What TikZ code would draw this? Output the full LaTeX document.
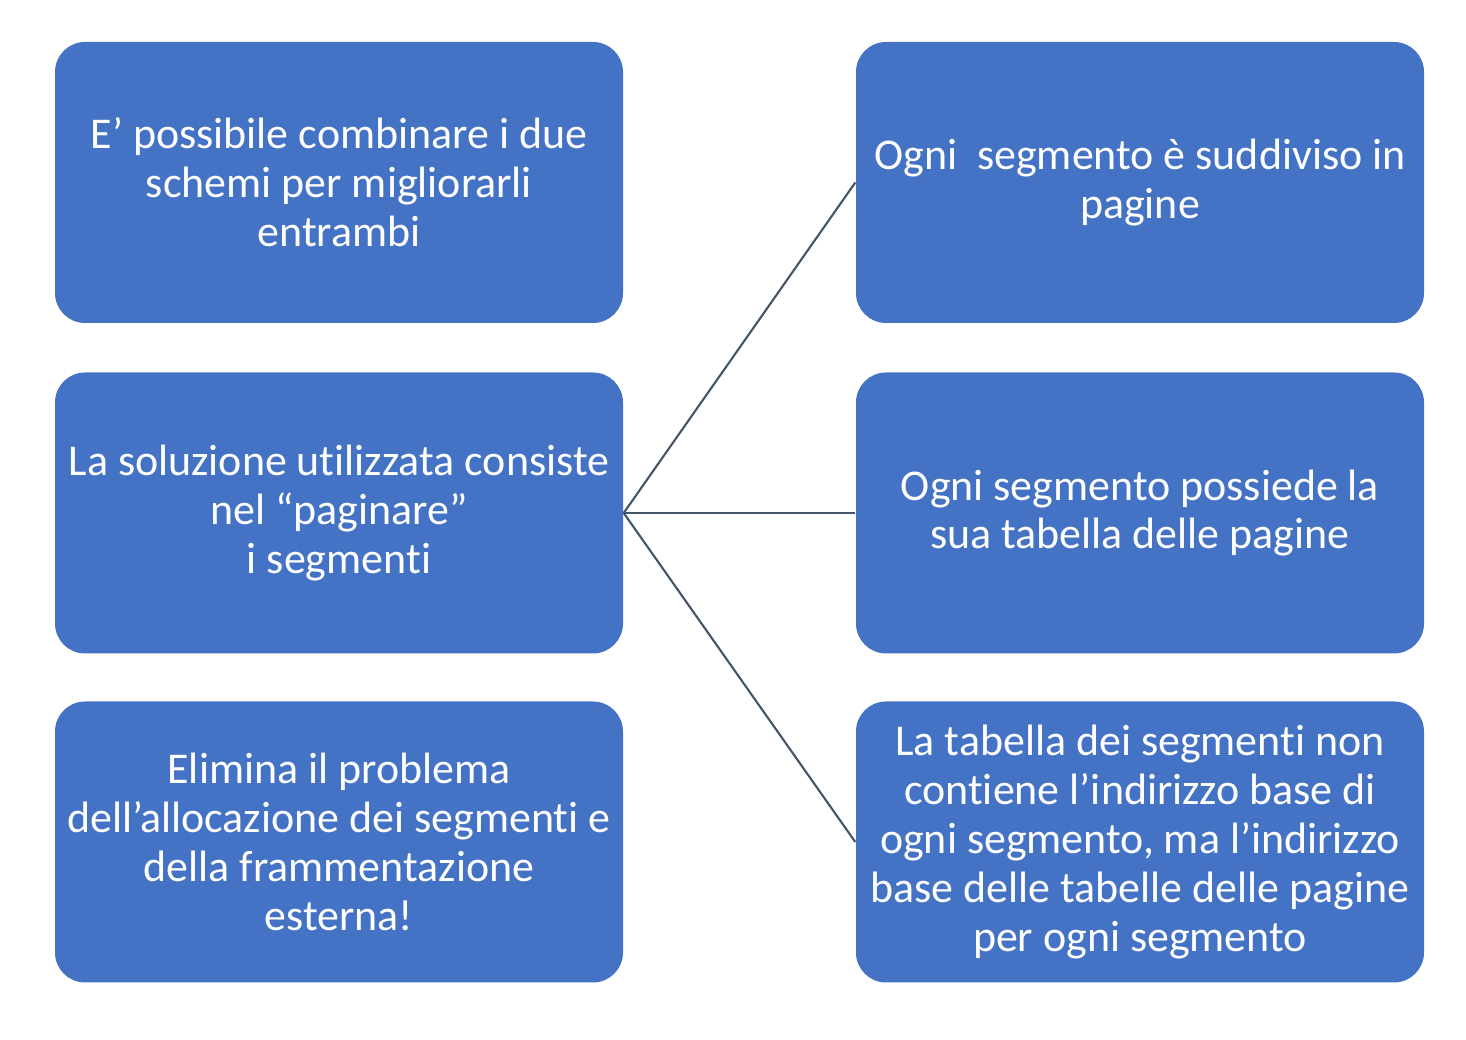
\documentclass[tikz,border=0pt]{standalone}
\usepackage{fontspec}
\setmainfont{Carlito}[Ligatures=NoCommon]
\usepackage{xcolor}
\usepackage{tikz}
\usetikzlibrary{positioning}

\definecolor{boxblue}{HTML}{4472C4}
\definecolor{linkgray}{HTML}{44546A}

\begin{document}
\begin{tikzpicture}[
  every node/.style={font=\fontsize{12.5pt}{13.9pt}\selectfont},
  card/.style={rectangle, rounded corners=0.3cm, fill=boxblue, text=white,
    minimum width=5.68cm, minimum height=2.81cm, align=center, inner sep=0pt},
  link/.style={draw=linkgray, line width=0.6pt}
]

% Canvas
\useasboundingbox (0,0) rectangle (14.66,-10.40);

% Left column
\node[card] (combine) at (3.39,-1.825) {E’ possibile combinare i due\\schemi per migliorarli\\entrambi};
\node[card] (solution) at (3.39,-5.13) {La soluzione utilizzata consiste\\nel “paginare”\\i segmenti};
\node[card] (eliminate) at (3.39,-8.42) {Elimina il problema\\dell’allocazione dei segmenti e\\della frammentazione\\esterna!};

% Right column
\node[card] (divided) at (11.40,-1.825) {Ogni\ \ segmento è suddiviso in\\pagine};
\node[card] (owntable) at (11.40,-5.13) {Ogni segmento possiede la\\sua tabella delle pagine};
\node[card] (segtable) at (11.40,-8.42) {La tabella dei segmenti non\\contiene l’indirizzo base di\\ogni segmento, ma l’indirizzo\\base delle tabelle delle pagine\\per ogni segmento};

% Links
\draw[link] (solution.east) -- (divided.west);
\draw[link] (solution.east) -- (owntable.west);
\draw[link] (solution.east) -- (segtable.west);

\end{tikzpicture}
\end{document}
